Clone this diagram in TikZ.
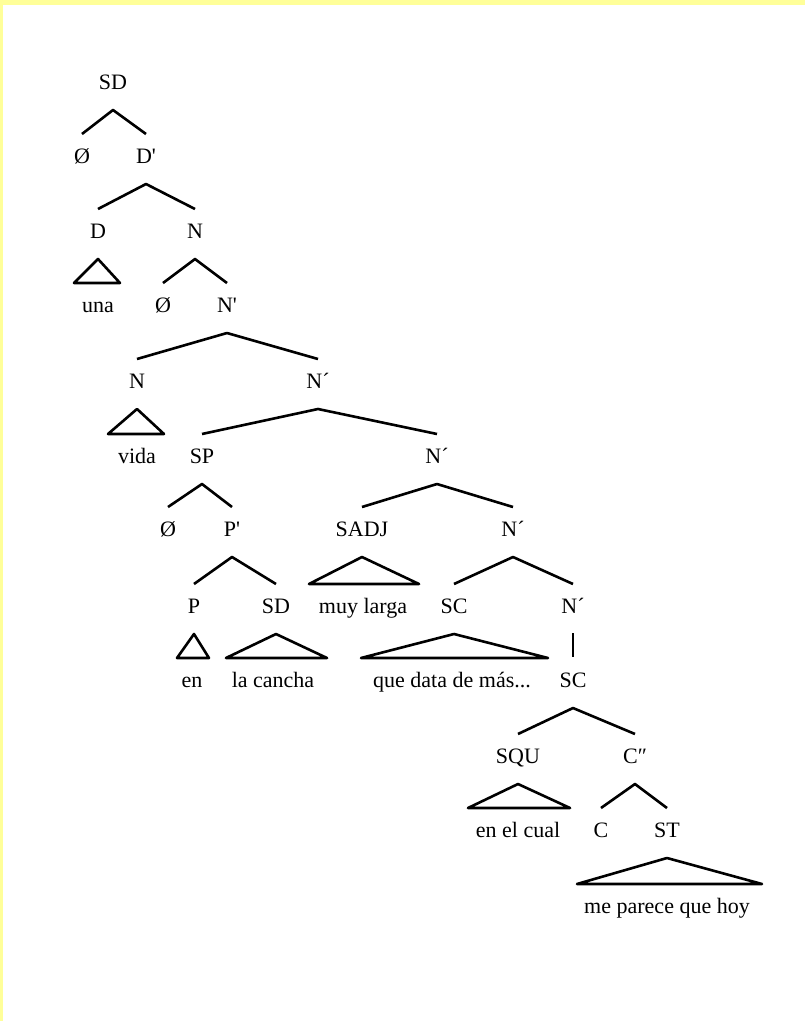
\documentclass[tikz,border=0pt]{standalone}
\usepackage{fontspec}
\setmainfont{Liberation Serif}[Ligatures=TeXOff]
\usetikzlibrary{calc}
\definecolor{bgyellow}{RGB}{255,255,153}
\begin{document}
\begin{tikzpicture}[x=1pt,y=-1pt,
  lbl/.style={anchor=base,inner sep=0pt,font=\fontsize{22}{26}\selectfont},
  edge/.style={line width=2.6pt,line join=round}]
\useasboundingbox (0,0) rectangle (805,1021);
\fill[bgyellow] (0,0) rectangle (805,1021);
\fill[white] (3,5) rectangle (805,1021);
% nodes
\node[lbl] (SDa) at (113,89) {SD};
\node[lbl] (z1) at (82,163) {Ø};
\node[lbl] (Dp) at (146,163) {D'};
\node[lbl] (D) at (98,238) {D};
\node[lbl] (N1) at (195,238) {N};
\node[lbl] (una) at (98,312) {una};
\node[lbl] (z2) at (163,312) {Ø};
\node[lbl] (Np) at (227,312) {N'};
\node[lbl] (N2) at (137,388) {N};
\node[lbl] (Nb1) at (318,388) {N´};
\node[lbl] (vida) at (137,463) {vida};
\node[lbl] (SP) at (202,463) {SP};
\node[lbl] (Nb2) at (437,463) {N´};
\node[lbl] (z3) at (168,536) {Ø};
\node[lbl] (Pp) at (232,536) {P'};
\node[lbl] (SADJ) at (362,536) {SADJ};
\node[lbl] (Nb3) at (513,536) {N´};
\node[lbl] (P) at (194,613) {P};
\node[lbl] (SDb) at (276,613) {SD};
\node[lbl] (muy) at (363,613) {muy larga};
\node[lbl] (SC1) at (454,613) {SC};
\node[lbl] (Nb4) at (573,613) {N´};
\node[lbl] (en) at (192,687) {en};
\node[lbl] (cancha) at (273,687) {la cancha};
\node[lbl] (que) at (452,687) {que data de más...};
\node[lbl] (SC2) at (573,687) {SC};
\node[lbl] (SQU) at (518,763) {SQU};
\node[lbl] (Cpp) at (635,763) {C″};
\node[lbl] (cual) at (518,837) {en el cual};
\node[lbl] (C) at (601,837) {C};
\node[lbl] (ST) at (667,837) {ST};
\node[lbl] (hoy) at (667,913) {me parece que hoy};
% branches
\foreach \p/\a/\b in {SDa/z1/Dp, Dp/D/N1, N1/z2/Np, Np/N2/Nb1, Nb1/SP/Nb2,
  SP/z3/Pp, Nb2/SADJ/Nb3, Pp/P/SDb, Nb3/SC1/Nb4, SC2/SQU/Cpp, Cpp/C/ST}
  \draw[edge] ($(\a.base)+(0,-29)$) -- ($(\p.base)+(0,21)$) -- ($(\b.base)+(0,-29)$);
\draw[edge] ($(Nb4.base)+(0,20)$) -- ($(SC2.base)+(0,-30)$);
% triangles
\foreach \p/\c/\l/\r in {D/una/-24/22, N2/vida/-29/27, P/en/-15/17,
  SDb/cancha/-47/54, SADJ/muy/-54/56, SC1/que/-91/96, SQU/cual/-50/52, ST/hoy/-90/95}
  \draw[edge] ($(\p.base)+(0,21)$) -- ($(\c.base)+(\l,-29)$) -- ($(\c.base)+(\r,-29)$) -- cycle;
\end{tikzpicture}
\end{document}
